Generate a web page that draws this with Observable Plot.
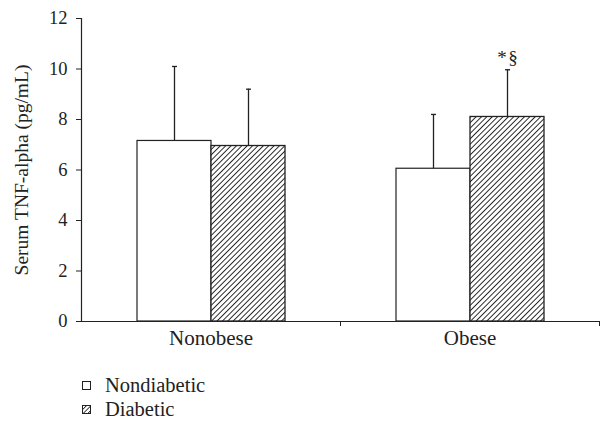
<!DOCTYPE html>
<html>
<head>
<meta charset="utf-8">
<script src="https://cdn.jsdelivr.net/npm/d3@7"></script>
<script src="https://cdn.jsdelivr.net/npm/@observablehq/plot@0.6"></script>
<style>
  body { margin: 0; background: #fff; font-family: "Liberation Serif", serif; color: #222; }
  #chart svg, #chart svg text { font-family: "Liberation Serif", serif !important; }
  #chart g[aria-label="y-axis tick label"] { font-size: 18.5px; }
  #chart g[aria-label="y-axis label"] { font-size: 19.5px; }
  #legend { margin-left: 82px; padding-top: 13px; font-size: 20.5px; font-family: "Liberation Serif", serif; }
  .row { height: 24px; line-height: 24px; display: flex; align-items: center; }
  .row svg { margin-right: 14px; flex: none; }
</style>
</head>
<body>
<div id="chart"></div>
<div id="legend"></div>
<script>
// ---- data ----
const groups = ["Nonobese", "Obese"];
const series = ["Nondiabetic", "Diabetic"];
const nondiabeticMean = [7.15, 6.05];
const diabeticMean = [6.95, 8.10];
const nondiabeticSD = [2.95, 2.15];
const diabeticSD = [2.25, 1.87];
const yTicks = [0, 2, 4, 6, 8, 10, 12];
const yLabel = "Serum TNF-alpha (pg/mL)";
const annotations = [{group: "Obese", series: "Diabetic", text: "*\u200A§"}];

// ---- layout ----
const W = 600, H = 360, ML = 81, MR = 1, MT = 18, MB = 39;
const groupW = (W - ML - MR) / groups.length;
const ink = "#222";

const means = {Nondiabetic: nondiabeticMean, Diabetic: diabeticMean};
const sds = {Nondiabetic: nondiabeticSD, Diabetic: diabeticSD};
const rows = groups.flatMap((g, i) => series.map(s => ({
  group: g, series: s, mean: means[s][i], upper: means[s][i] + sds[s][i]
})));
const annRows = annotations.map(a => ({...a, upper: rows.find(r => r.group === a.group && r.series === a.series).upper}));

const capSymbol = {
  draw(ctx, size) { const r = Math.sqrt(size / Math.PI); ctx.moveTo(-r, 0); ctx.lineTo(r, 0); }
};

const chart = Plot.plot({
  width: W, height: H,
  marginLeft: ML, marginRight: MR, marginTop: MT, marginBottom: MB,
  style: {fontFamily: '"Liberation Serif", serif', color: ink, background: "white"},
  fx: {domain: groups, padding: 0},
  x: {domain: series, paddingInner: 0, paddingOuter: 0.75, axis: null},
  y: {domain: [0, 12]},
  marks: [
    Plot.barY(rows.filter(d => d.series === series[0]), {fx: "group", x: "series", y: "mean", fill: "white", stroke: ink, strokeWidth: 1.2}),
    Plot.barY(rows.filter(d => d.series === series[1]), {fx: "group", x: "series", y: "mean", fill: "url(#hatch)", stroke: ink, strokeWidth: 1.3}),
    Plot.ruleX(rows, {fx: "group", x: "series", y1: "mean", y2: "upper", stroke: ink, strokeWidth: 1.3}),
    Plot.dot(rows, {fx: "group", x: "series", y: "upper", symbol: capSymbol, r: 2.5, stroke: ink, strokeWidth: 1.3, fill: "none"}),
    Plot.text(annRows, {fx: "group", x: "series", y: "upper", text: "text", lineAnchor: "bottom", dy: -6, fontSize: 19, fill: ink}),
    Plot.axisY({ticks: yTicks, tickSize: 5, tickPadding: 9, fontSize: 18.5, label: yLabel, labelAnchor: "center", labelOffset: 67, labelArrow: "none"}),
    Plot.axisFx({anchor: "bottom", tickSize: 0, tickPadding: 9, fontSize: 21, label: null}),
    Plot.axisFx({anchor: "bottom", tickSize: 5, tickFormat: () => "", dx: groupW / 2, label: null}),
    Plot.frame({anchor: "left", facet: "super", stroke: ink, strokeWidth: 1.2}),
    Plot.frame({anchor: "bottom", facet: "super", stroke: ink, strokeWidth: 1.2})
  ]
});

const patternDef = (sel, id, size, sw) => {
  const p = sel.append("pattern").attr("id", id).attr("patternUnits", "userSpaceOnUse")
    .attr("width", size).attr("height", size).attr("patternTransform", "rotate(45)");
  p.append("rect").attr("width", size).attr("height", size).attr("fill", "white");
  p.append("line").attr("x1", 0).attr("y1", 0).attr("x2", 0).attr("y2", size).attr("stroke", ink).attr("stroke-width", sw);
};
const defs = d3.select(chart).insert("defs", ":first-child");
patternDef(defs, "hatch", 3.8, 1.9);
patternDef(defs, "hatchLegend", 3.2, 1.7);
document.getElementById("chart").appendChild(chart);

// ---- legend ----
const legend = d3.select("#legend");
series.forEach((s, i) => {
  const row = legend.append("div").attr("class", "row");
  const sw = row.append("svg").attr("width", 9).attr("height", 9);
  sw.append("rect").attr("x", 0.5).attr("y", 0.5).attr("width", 8).attr("height", 8)
    .attr("fill", i === 0 ? "white" : "url(#hatchLegend)").attr("stroke", ink).attr("stroke-width", 1);
  row.append("span").text(s);
});
</script>
</body>
</html>
